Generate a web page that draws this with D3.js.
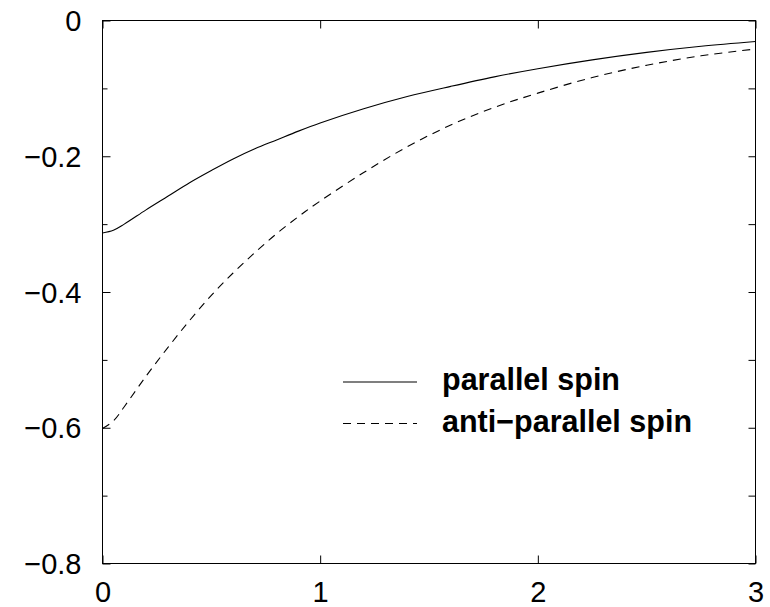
<!DOCTYPE html>
<html>
<head>
<meta charset="utf-8">
<script src="https://cdn.jsdelivr.net/npm/d3@7"></script>
<style>
  body { margin: 0; background: #fff; }
  text { font-family: "Liberation Sans", Arial, Helvetica, sans-serif; }
</style>
</head>
<body>
<div id="chart"></div>
<script>
// values
const xs = [0, 0.05, 0.1, 0.2, 0.3, 0.4, 0.5, 0.6, 0.7, 0.8, 0.9, 1.0, 1.2, 1.4, 1.6, 1.8, 2.0, 2.25, 2.5, 2.75, 3.0];
const parallel = [-0.313, -0.309, -0.300, -0.279, -0.259, -0.239, -0.221, -0.204, -0.189, -0.176, -0.163, -0.151, -0.130, -0.112, -0.097, -0.083, -0.071, -0.058, -0.047, -0.038, -0.031];
const antiParallel = [-0.601, -0.590, -0.569, -0.524, -0.482, -0.442, -0.405, -0.372, -0.342, -0.314, -0.289, -0.266, -0.224, -0.186, -0.154, -0.128, -0.107, -0.084, -0.066, -0.052, -0.042];
const seriesNames = ["parallel spin", "anti\u2212parallel spin"];
const xTicks = [0, 1, 2, 3];
const yTicks = [0, -0.2, -0.4, -0.6, -0.8];
const yMinor = [-0.1, -0.3, -0.5, -0.7];

const width = 770, height = 607;
const mLeft = 102.5, mRight = 755.5, mTop = 20.5, mBottom = 563.5;

const svg = d3.select("#chart").append("svg")
    .attr("width", width)
    .attr("height", height);

const x = d3.scaleLinear().domain([0, 3]).range([mLeft, mRight]);
const y = d3.scaleLinear().domain([-0.8, 0]).range([mBottom, mTop]);

// frame
svg.append("rect")
    .attr("x", mLeft).attr("y", mTop)
    .attr("width", mRight - mLeft).attr("height", mBottom - mTop)
    .attr("fill", "none").attr("stroke", "#000").attr("stroke-width", 1);

// ticks, pointing inward on all four sides
const fmt = d => d === 0 ? "0" : d3.format(".1f")(d).replace("-", "\u2212");

const axL = d3.axisLeft(y).tickValues(yTicks).tickSize(-8).tickPadding(21).tickFormat(fmt);
const axLm = d3.axisLeft(y).tickValues(yMinor).tickSize(-5).tickFormat("");
const axR = d3.axisRight(y).tickValues(yTicks.concat(yMinor)).tickSize(-7).tickFormat("");
const axB = d3.axisBottom(x).tickValues(xTicks).tickSize(-8).tickPadding(18).tickFormat(d3.format("d"));
const axT = d3.axisTop(x).tickValues(xTicks).tickSize(-8).tickFormat("");

function put(ax, tx, ty) {
    const g = svg.append("g").attr("transform", `translate(${tx},${ty})`).call(ax);
    g.select(".domain").remove();
    g.selectAll("line").attr("stroke", "#000");
    g.selectAll("text").attr("font-size", 29).attr("fill", "#000")
        .style("font-family", '"Liberation Sans", Arial, sans-serif');
    return g;
}
put(axL, mLeft, 0).selectAll("text").attr("dy", "0.35em");
put(axLm, mLeft, 0);
put(axR, mRight, 0);
put(axB, 0, mBottom).selectAll("text").attr("dy", "0.71em");
put(axT, 0, mTop);

// curves
const line = d3.line()
    .x(d => x(d[0]))
    .y(d => y(d[1]))
    .curve(d3.curveCatmullRom);

const series = [
    { name: seriesNames[0], vals: parallel, dash: null },
    { name: seriesNames[1], vals: antiParallel, dash: "8,6" }
];

series.forEach(s => {
    svg.append("path")
        .datum(xs.map((v, i) => [v, s.vals[i]]))
        .attr("d", line)
        .attr("fill", "none")
        .attr("stroke", "#000")
        .attr("stroke-width", 1.1)
        .attr("stroke-dasharray", s.dash);
});

// legend
const leg = svg.append("g");
series.forEach((s, i) => {
    const yy = 390 + i * 41.5;
    leg.append("line")
        .attr("x1", 343).attr("x2", 417)
        .attr("y1", yy - 8).attr("y2", yy - 8)
        .attr("stroke", "#000").attr("stroke-width", 1.1)
        .attr("stroke-dasharray", s.dash);
    leg.append("text")
        .attr("x", 442).attr("y", yy)
        .attr("font-size", 30.5).attr("font-weight", "bold")
        .text(s.name);
});
</script>
</body>
</html>
